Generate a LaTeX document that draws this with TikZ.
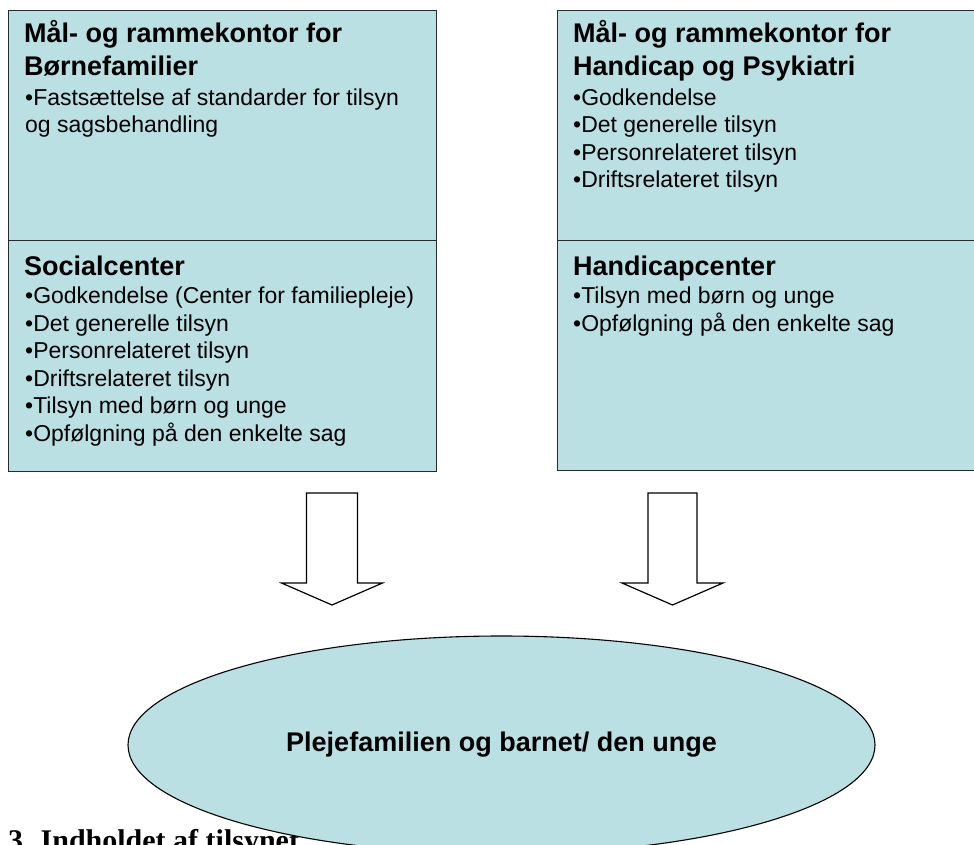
\documentclass[tikz,border=0pt]{standalone}
\usepackage{fontspec}
\setmainfont{Liberation Sans}
\newfontfamily\timesbold{Liberation Serif}
\usetikzlibrary{positioning, shapes.geometric}
\definecolor{boxfill}{RGB}{187,224,227}
\definecolor{boxline}{RGB}{35,45,45}

\begin{document}
\begin{tikzpicture}[
    % GLOBAL CFG
    x=1pt, y=-1pt,
    % Styles
    panel/.style={% For the four office boxes
        rectangle,
        draw=boxline,
        fill=boxfill,
        line width=1.3pt,
        anchor=north west,
        inner sep=0pt,
        },
    heading/.style={% For the bold box titles (placed at the last baseline)
        anchor=base west,
        align=left,
        inner sep=0pt,
        font=\fontsize{27}{33}\selectfont\bfseries,
        },
    items/.style={% For the bullet lists (placed at the last baseline)
        anchor=base west,
        align=left,
        inner sep=0pt,
        font=\fontsize{23}{27.5}\selectfont,
        },
    blockarrow/.style={% Hollow arrows
        draw,
        fill=white,
        line width=1.2pt,
        line join=miter,
        },
    target/.style={% For the family at the bottom
        ellipse,
        draw,
        fill=boxfill,
        line width=1.1pt,
        inner sep=0pt,
        minimum width=747pt,
        minimum height=218pt,
        font=\fontsize{27}{33}\selectfont\bfseries,
        }
    ]
    \useasboundingbox (0,0) rectangle (974,845);

    % Draw the boxes
    \node [panel, minimum width=428pt, minimum height=230pt] (lefttop) at (8,10) {};
    \node [panel, minimum width=428pt, minimum height=231pt] (leftbottom) at (8,240) {};
    \node [panel, minimum width=440pt, minimum height=230pt] (righttop) at (557,10) {};
    \node [panel, minimum width=440pt, minimum height=230pt] (rightbottom) at (557,240) {};

    % Texts of the left boxes
    \node [heading] (lthead) at (24,76) {Mål- og rammekontor for\\Børnefamilier};
    \node [items] (ltlist) at (25,133) {•Fastsættelse af standarder for tilsyn\\og sagsbehandling};
    \node [heading] (lbhead) at (24,275) {Socialcenter};
    \node [items] (lblist) at (25,441) {•Godkendelse (Center for familiepleje)\\
        •Det generelle tilsyn\\•Personrelateret tilsyn\\•Driftsrelateret tilsyn\\
        •Tilsyn med børn og unge\\•Opfølgning på den enkelte sag};

    % Texts of the right boxes
    \node [heading] (rthead) at (573,76) {Mål- og rammekontor for\\Handicap og Psykiatri};
    \node [items] (rtlist) at (573,188) {•Godkendelse\\•Det generelle tilsyn\\
        •Personrelateret tilsyn\\•Driftsrelateret tilsyn};
    \node [heading] (rbhead) at (573,275) {Handicapcenter};
    \node [items] (rblist) at (573,331) {•Tilsyn med børn og unge\\•Opfølgning på den enkelte sag};

    % Heading under the picture, partly hidden by the ellipse
    \node [anchor=base west, inner sep=0pt, font=\timesbold\bfseries\fontsize{30}{36}\selectfont] (caption) at (8,850) {3. Indholdet af tilsynet};

    % Hollow arrows
    \coordinate (arrL) at (332,493);
    \coordinate (arrR) at (672.5,493);
    \draw [blockarrow] (arrL) ++(-25.5,0) -- ++(51,0) -- ++(0,90) -- ++(25,0)
        -- ++(-50.5,22) -- ++(-50.5,-22) -- ++(25,0) -- cycle;
    \draw [blockarrow] (arrR) ++(-24.5,0) -- ++(49,0) -- ++(0,90) -- ++(26,0)
        -- ++(-50.5,22) -- ++(-50.5,-22) -- ++(26,0) -- cycle;

    % The family
    \node [target] (family) at (501.5,745) {Plejefamilien og barnet/ den unge};

\end{tikzpicture}
\end{document}
